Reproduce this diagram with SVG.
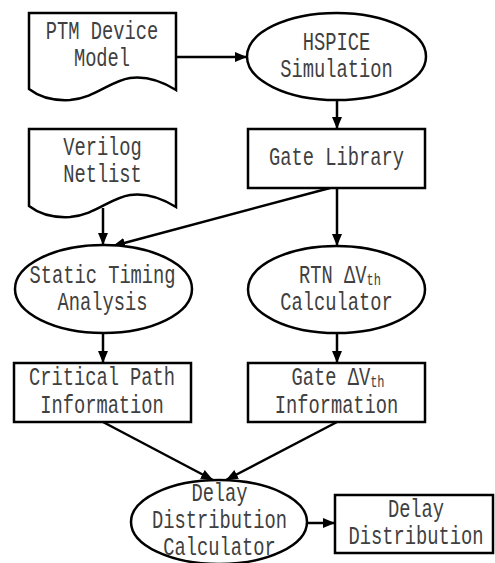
<svg xmlns="http://www.w3.org/2000/svg" width="495" height="563" viewBox="0 0 495 563">
<style>
.s{fill:#fff;stroke:#000;stroke-width:2.5}
.t{font-family:"Liberation Mono",monospace;font-size:18.75px;fill:#404040;text-anchor:middle}
.c line{stroke:#000;stroke-width:2.5}
.sub{font-size:12px}
</style>
<defs>
<marker id="ah" viewBox="0 0 12 10" refX="12" refY="5" markerWidth="12" markerHeight="10" markerUnits="userSpaceOnUse" orient="auto">
<path d="M0,0 L12,5 L0,10 Z" fill="#000"/>
</marker>
</defs>
<rect width="495" height="563" fill="#fff"/>
<g class="c">
<line x1="176" y1="57" x2="247" y2="57" marker-end="url(#ah)"/>
<line x1="337" y1="100" x2="337" y2="129" marker-end="url(#ah)"/>
<line x1="337" y1="188" x2="337" y2="246" marker-end="url(#ah)"/>
<line x1="330" y1="188" x2="113" y2="246" marker-end="url(#ah)"/>
<line x1="103" y1="208" x2="103" y2="245" marker-end="url(#ah)"/>
<line x1="103" y1="333" x2="103" y2="363" marker-end="url(#ah)"/>
<line x1="337" y1="333" x2="337" y2="363" marker-end="url(#ah)"/>
<line x1="103" y1="422" x2="213" y2="480" marker-end="url(#ah)"/>
<line x1="337" y1="422" x2="226" y2="480" marker-end="url(#ah)"/>
<line x1="307" y1="523" x2="335" y2="523" marker-end="url(#ah)"/>
</g>
<g id="ptm">
<path class="s" d="M29,13 H176 V90 C160,80 145,76 130,78 C110,81 95,98 70,100 C52,101 38,96 29,89 Z"/>
<text class="t" transform="translate(102,39) scale(1,1.35)">PTM Device</text>
<text class="t" transform="translate(102,66) scale(1,1.35)">Model</text>
</g>
<g id="hspice">
<ellipse class="s" cx="336.5" cy="56.5" rx="89.5" ry="43.5"/>
<text class="t" transform="translate(336.5,50) scale(1,1.35)">HSPICE</text>
<text class="t" transform="translate(336.5,77) scale(1,1.35)">Simulation</text>
</g>
<g id="gatelib">
<rect class="s" x="248" y="129" width="177" height="59"/>
<text class="t" transform="translate(336.5,165) scale(1,1.35)">Gate Library</text>
</g>
<g id="verilog">
<path class="s" d="M29,129 H176 V207 C160,197 145,193 130,195 C110,198 95,215 70,217 C52,218 38,213 29,206 Z"/>
<text class="t" transform="translate(102.5,155) scale(1,1.35)">Verilog</text>
<text class="t" transform="translate(102.5,182) scale(1,1.35)">Netlist</text>
</g>
<g id="sta">
<ellipse class="s" cx="103.5" cy="289" rx="88.5" ry="44"/>
<text class="t" transform="translate(102.5,283) scale(1,1.35)">Static Timing</text>
<text class="t" transform="translate(102.5,310) scale(1,1.35)">Analysis</text>
</g>
<g id="rtn">
<ellipse class="s" cx="336.5" cy="289.5" rx="88.5" ry="43.5"/>
<text class="t" transform="translate(340,283) scale(1,1.35)">RTN  ΔV<tspan class="sub" dy="1.5">th</tspan></text>
<text class="t" transform="translate(336.5,310) scale(1,1.35)">Calculator</text>
</g>
<g id="critpath">
<rect class="s" x="14" y="363" width="177" height="59"/>
<text class="t" transform="translate(102,385) scale(1,1.35)">Critical Path</text>
<text class="t" transform="translate(102,413) scale(1,1.35)">Information</text>
</g>
<g id="gatevth">
<rect class="s" x="248" y="363" width="177" height="59"/>
<text class="t" transform="translate(338,385) scale(1,1.35)">Gate ΔV<tspan class="sub" dy="1.5">th</tspan></text>
<text class="t" transform="translate(336.5,413) scale(1,1.35)">Information</text>
</g>
<g id="ddc">
<ellipse class="s" cx="219" cy="522" rx="88" ry="42"/>
<text class="t" transform="translate(219.5,501) scale(1,1.35)">Delay</text>
<text class="t" transform="translate(219.5,528) scale(1,1.35)">Distribution</text>
<text class="t" transform="translate(219.5,555) scale(1,1.35)">Calculator</text>
</g>
<g id="dd">
<rect class="s" x="335" y="495" width="158" height="58"/>
<text class="t" transform="translate(416,517) scale(1,1.35)">Delay</text>
<text class="t" transform="translate(416,544) scale(1,1.35)">Distribution</text>
</g>
</svg>
